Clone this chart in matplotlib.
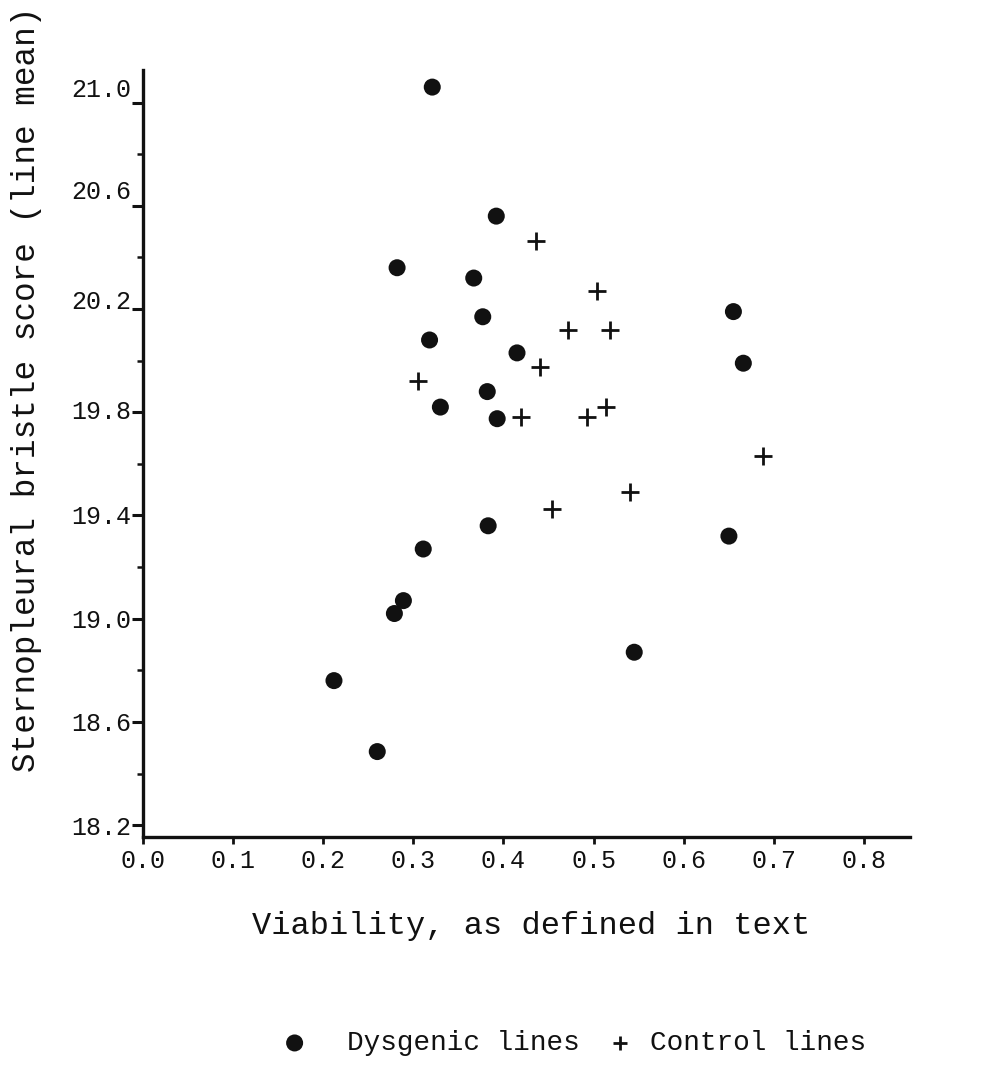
import matplotlib
matplotlib.use("Agg")
import matplotlib.pyplot as plt
import matplotlib.transforms as mtransforms
from matplotlib.ticker import MultipleLocator, FixedLocator

# viability / line-mean pairs for each set of lines
dysgenic_viability = [0.321, 0.392, 0.282, 0.367, 0.377, 0.318, 0.415, 0.382, 0.330, 0.393,
                      0.655, 0.666, 0.650, 0.383, 0.311, 0.289, 0.279, 0.545, 0.212, 0.260]
dysgenic_score = [21.06, 20.56, 20.36, 20.32, 20.17, 20.08, 20.03, 19.88, 19.82, 19.775,
                  20.19, 19.99, 19.32, 19.36, 19.27, 19.07, 19.02, 18.87, 18.76, 18.485]

control_viability = [0.436, 0.504, 0.471, 0.518, 0.440, 0.305, 0.419, 0.493, 0.514, 0.688,
                     0.540, 0.454]
control_score = [20.465, 20.27, 20.12, 20.12, 19.977, 19.92, 19.78, 19.783, 19.822, 19.63,
                 19.49, 19.426]

x_ticks = [0.0, 0.1, 0.2, 0.3, 0.4, 0.5, 0.6, 0.7, 0.8]
y_ticks = [18.2, 18.6, 19.0, 19.4, 19.8, 20.2, 20.6, 21.0]

FONT = "Liberation Mono"
INK = "#111111"

fig = plt.figure(figsize=(9.85, 10.7), dpi=100, facecolor="white")
ax = fig.add_axes([0.145, 0.218, 0.779, 0.717])

dys = ax.scatter(dysgenic_viability, dysgenic_score, s=150, marker="o",
                 color=INK, edgecolors="none", zorder=3, label="Dysgenic lines")
ctl = ax.scatter(control_viability, control_score, s=170, marker="+",
                 color=INK, linewidths=2.0, zorder=3, label="Control lines")

ax.set_xlim(0.0, 0.851)
ax.set_ylim(18.155, 21.128)

for side in ("top", "right"):
    ax.spines[side].set_visible(False)
for side in ("left", "bottom"):
    ax.spines[side].set_linewidth(2.4)
    ax.spines[side].set_color(INK)

ax.xaxis.set_major_locator(FixedLocator(x_ticks))
ax.yaxis.set_major_locator(FixedLocator(y_ticks))
ax.yaxis.set_minor_locator(MultipleLocator(0.2))
ax.set_xticklabels([f"{t:.1f}" for t in x_ticks])
ax.set_yticklabels([f"{t:.1f}" for t in y_ticks])

ax.tick_params(axis="y", which="major", direction="out", length=8, width=2.2,
               color=INK, pad=0)
ax.tick_params(axis="y", which="minor", direction="out", length=4, width=1.8,
               color=INK)
ax.tick_params(axis="x", which="major", direction="out", length=5, width=2.0,
               color=INK, pad=4)
for lbl in ax.get_xticklabels() + ax.get_yticklabels():
    lbl.set_fontfamily(FONT)
    lbl.set_fontsize(18)
    lbl.set_color(INK)

# the typed upper labels sit a little above their tick marks
lift_pts = [0, 0, 0, 1, 2, 7, 12, 11]
for lbl, lift in zip(ax.get_yticklabels(), lift_pts):
    lbl.set_transform(lbl.get_transform()
                      + mtransforms.ScaledTranslation(0, lift / 72, fig.dpi_scale_trans))

fig.text(0.539, 0.135, "Viability, as defined in text", ha="center", va="center",
         fontsize=23, family=FONT, color=INK)
fig.text(0.027, 0.636, "Sternopleural bristle score (line mean)", ha="center",
         va="center", rotation=90, fontsize=23.5, family=FONT, color=INK)

leg_kw = dict(frameon=False, prop={"family": FONT, "size": 20}, labelcolor=INK,
              handlelength=1.0, borderpad=0, borderaxespad=0)
fig.legend(handles=[dys], loc="center left", bbox_to_anchor=(0.285, 0.025),
           handletextpad=1.4, markerscale=1.0, **leg_kw)
fig.legend(handles=[ctl], loc="center left", bbox_to_anchor=(0.615, 0.025),
           handletextpad=0.6, markerscale=0.75, **leg_kw)

fig.savefig("out.png", dpi=100, facecolor="white")
